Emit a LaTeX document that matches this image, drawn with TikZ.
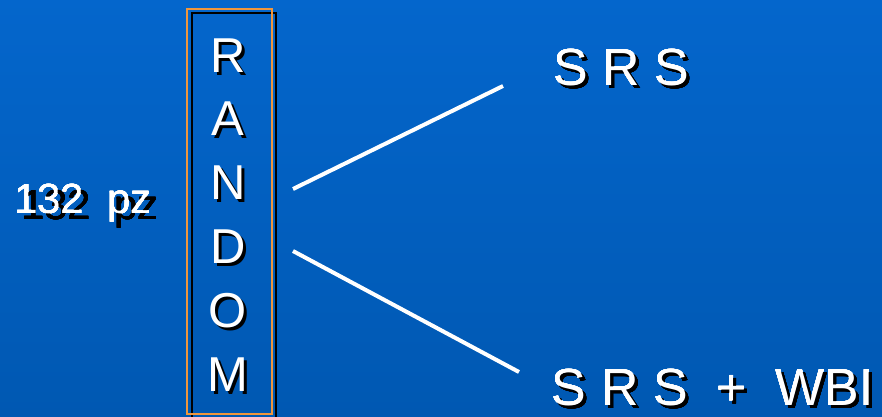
\documentclass[tikz,border=0pt]{standalone}
\usepackage{fontspec}
\setmainfont{Liberation Sans}
\usepackage{tikz}

\definecolor{slidetop}{RGB}{4,102,204}
\definecolor{slidebot}{RGB}{0,88,178}
\definecolor{boxorange}{RGB}{240,150,60}

% white text with a black drop shadow: [offset]{name}{position}{size}{text}
\newcommand\shadowlbl[5][3,3]{%
  \node[lbl,black] at ([shift={(#1)}]#3) {\fontsize{#4}{#4}\selectfont #5};
  \node[lbl,white] (#2) at (#3) {\fontsize{#4}{#4}\selectfont #5};}

\begin{document}
\begin{tikzpicture}[x=1pt, y=-1pt,
    lbl/.style={inner sep=0pt, anchor=base},
    branch/.style={white, line width=4pt}]
    % slide background
    \shade[top color=slidetop, bottom color=slidebot] (0,0) rectangle (882,416);
    \useasboundingbox (0,0) rectangle (882,416);
    % the RANDOM column
    \draw[black, line width=1.4pt] (192,13) rectangle (276,420);
    \node[draw=boxorange, line width=1.6pt, minimum width=85pt, minimum height=405pt,
          inner sep=0pt, anchor=north west] (box) at (186,8) {};
    \foreach \ch/\yb in {R/72,A/135,N/199,D/263,O/327,M/391}
      \shadowlbl{let-\ch}{228,\yb}{49}{\ch}
    % patients
    \shadowlbl[7,6]{pts}{83,213}{42}{132\ \ pz}
    % the two arms
    \shadowlbl{armA}{621,85}{52}{S R S}
    \shadowlbl{armB}{713,405}{52}{S R S\ \ +\ \ WBI}
    \coordinate (forkA) at (293,189);
    \coordinate (forkB) at (293,251);
    \coordinate (endA) at (503,86);
    \coordinate (endB) at (519,372);
    \draw[branch] (forkA) -- (endA);
    \draw[branch] (forkB) -- (endB);
  \end{tikzpicture}
\end{document}
